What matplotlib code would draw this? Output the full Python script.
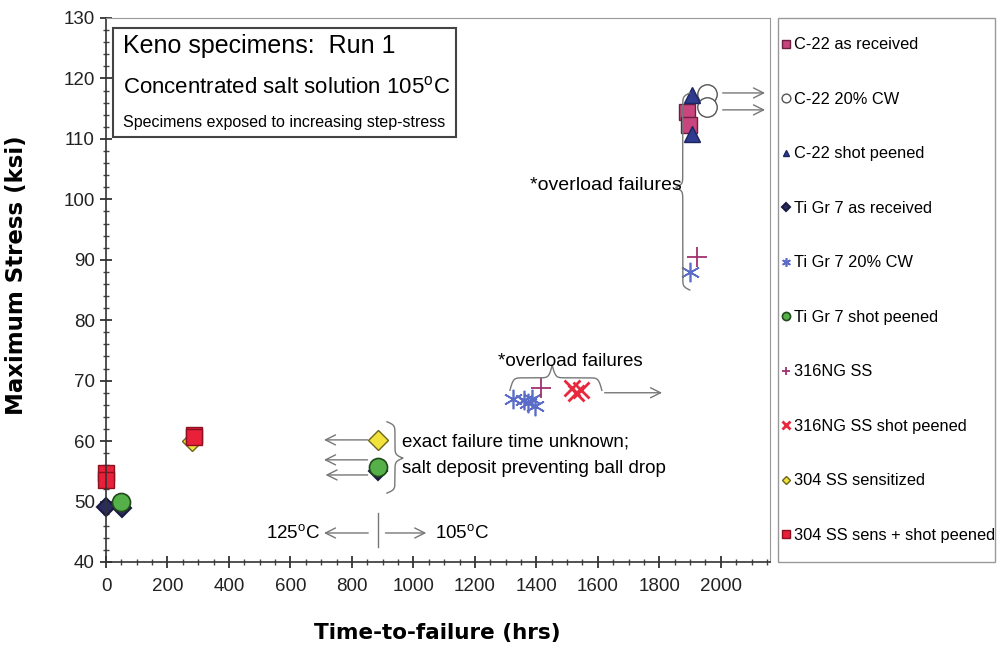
import numpy as np
import matplotlib
matplotlib.use("Agg")
import matplotlib.pyplot as plt
from matplotlib.patches import Rectangle
from matplotlib.ticker import MultipleLocator

plt.rcParams['font.family'] = ['Liberation Sans', 'DejaVu Sans']
plt.rcParams['mathtext.default'] = 'regular'

# data (hrs, ksi)
c22_ar_x = [1890, 1895]
c22_ar_y = [114.5, 112.3]
c22_cw_x = [1955, 1955]
c22_cw_y = [117.5, 115.2]
c22_sp_x = [1905, 1905]
c22_sp_y = [117.3, 110.8]
ti_ar_x = [0, 52, 885]
ti_ar_y = [49.1, 49.0, 55.0]
ti_cw_x = [1325, 1360, 1372, 1395, 1385, 1900]
ti_cw_y = [67.0, 66.8, 66.3, 65.8, 67.0, 88.0]
ti_sp_x = [49, 885]
ti_sp_y = [50.0, 55.7]
ss316_x = [1415, 1922]
ss316_y = [68.8, 90.4]
ss316_sp_x = [1515, 1530, 1545]
ss316_sp_y = [68.8, 68.0, 68.5]
ss304_x = [280, 885]
ss304_y = [60.0, 60.2]
ss304_sp_x = [0, 0, 285, 285]
ss304_sp_y = [54.8, 53.6, 61.0, 60.6]

labels = ["C-22 as received", "C-22 20% CW", "C-22 shot peened",
          "Ti Gr 7 as received", "Ti Gr 7 20% CW", "Ti Gr 7 shot peened",
          "316NG SS", "316NG SS shot peened", "304 SS sensitized",
          "304 SS sens + shot peened"]

fig = plt.figure(figsize=(9.97, 6.5), dpi=100)
ax = fig.add_axes([106/997, 1-562/650, 664/997, 544/650])
ax.set_xlim(0, 2160)
ax.set_ylim(40, 130)

star = (6, 2, 0)
kw = dict(ls='none', clip_on=False)
h = []
h += ax.plot(c22_ar_x, c22_ar_y, marker='s', ms=12, mfc='#c8457e', mec='#6a2040', mew=1, **kw)
h += ax.plot(c22_cw_x, c22_cw_y, marker='o', ms=14, mfc='white', mec='#555555', mew=1, **kw)
h += ax.plot(c22_sp_x, c22_sp_y, marker='^', ms=11, mfc='#2e3b8f', mec='#1c2560', mew=1, **kw)
h += ax.plot(ti_ar_x, ti_ar_y, marker='D', ms=9, mfc='#2a2c5e', mec='#1a1a40', mew=1.5, **kw)
h += ax.plot(ti_cw_x, ti_cw_y, marker=star, ms=14, mec='#5b6cc8', mfc='none', mew=1.2, **kw)
h += ax.plot(ti_sp_x, ti_sp_y, marker='o', ms=13, mfc='#55b04a', mec='#224a1c', mew=1.2, **kw)
h += ax.plot(ss316_x, ss316_y, marker='+', ms=14, mec='#a0306e', mew=1.3, **kw)
h += ax.plot(ss316_sp_x, ss316_sp_y, marker='x', ms=12, mec='#e8283c', mew=2, **kw)
h += ax.plot(ss304_x, ss304_y, marker='D', ms=10, mfc='#f2e23c', mec='#6b6520', mew=1, **kw)
h += ax.plot(ss304_sp_x, ss304_sp_y, marker='s', ms=12, mfc='#e8203a', mec='#8b1020', mew=1, **kw)

# axes styling
ax.xaxis.set_major_locator(MultipleLocator(200))
ax.xaxis.set_minor_locator(MultipleLocator(50))
ax.yaxis.set_major_locator(MultipleLocator(10))
ax.yaxis.set_minor_locator(MultipleLocator(2))
ax.set_xticks(np.arange(0, 2001, 200))
ax.tick_params(which='major', direction='inout', length=9, width=1.2, labelsize=13.5, colors='#222222')
ax.tick_params(which='minor', direction='inout', length=5, width=1, colors='#444444')
ax.tick_params(axis='x', pad=7)
for s in ['left', 'bottom']:
    ax.spines[s].set_color('#333333')
    ax.spines[s].set_linewidth(1.2)
for s in ['top', 'right']:
    ax.spines[s].set_color('#999999')
ax.set_xlabel("Time-to-failure (hrs)", fontsize=15.5, fontweight='bold', family='DejaVu Sans')
ax.set_ylabel("Maximum Stress (ksi)", fontsize=16.5, fontweight='bold', family='DejaVu Sans')
ax.xaxis.set_label_coords(0.4985, -0.113)
ax.yaxis.set_label_coords(-0.1175, 0.527)

# title box
ax.add_patch(Rectangle((23, 110.3), 1115, 18, fill=True, fc='white', ec='#444444', lw=1.5, zorder=1))
ax.text(55, 125.3, "Keno specimens:  Run 1", fontsize=18, va='center')
ax.text(55, 118.6, "Concentrated salt solution 105$^o$C", fontsize=16, va='center')
ax.text(55, 112.7, "Specimens exposed to increasing step-stress", fontsize=11.5, va='center')


def brace(p0, p1, depth, tip=0.5, side=1, beta=0.6):
    tr = ax.transData
    d0 = tr.transform(p0)
    d1 = tr.transform(p1)
    L = np.hypot(*(d1 - d0))
    u = (d1 - d0) / L
    n = np.array([-u[1], u[0]]) * side
    st = tip * L
    s1 = np.linspace(0, st, 100)
    s2 = np.linspace(st, L, 100)
    y1 = 1/(1+np.exp(-beta*(s1-0))) + 1/(1+np.exp(-beta*(s1-st)))
    y2 = 1/(1+np.exp(beta*(s2-st))) + 1/(1+np.exp(beta*(s2-L)))
    s = np.concatenate([s1, s2])
    y = (np.concatenate([y1, y2]) - 0.5) * depth
    pts = d0 + np.outer(s, u) + np.outer(y, n)
    dat = tr.inverted().transform(pts)
    ax.plot(dat[:, 0], dat[:, 1], color='#777777', lw=1, clip_on=False)


arr = dict(arrowstyle='->', color='#777777', lw=1, mutation_scale=18)

# overload failures (upper)
ax.text(1873, 102.3, "*overload failures", fontsize=14, ha='right', va='center')
brace((1899, 117.6), (1899, 85.0), 14, tip=0.48, side=-1)
ax.annotate("", xy=(2153, 117.6), xytext=(1997, 117.6), arrowprops=arr, annotation_clip=False)
ax.annotate("", xy=(2153, 114.8), xytext=(1997, 114.8), arrowprops=arr, annotation_clip=False)

# overload failures (lower)
ax.text(1510, 71.8, "*overload failures", fontsize=13.5, ha='center', va='bottom')
brace((1314, 68.4), (1613, 68.4), 25, tip=0.46, side=1)
ax.annotate("", xy=(1818, 68.0), xytext=(1613, 68.0), arrowprops=arr)

# unknown failure time
ax.annotate("", xy=(700, 60.2), xytext=(860, 60.2), arrowprops=arr)
ax.annotate("", xy=(700, 56.9), xytext=(860, 56.9), arrowprops=arr)
ax.annotate("", xy=(705, 54.4), xytext=(860, 54.4), arrowprops=arr)
brace((914, 63.2), (914, 51.4), 16, tip=0.51, side=1)
ax.text(963, 59.8, "exact failure time unknown;", fontsize=13.5, va='center')
ax.text(963, 55.5, "salt deposit preventing ball drop", fontsize=13.5, va='center')

# temperature change
ax.plot([884, 884], [42.5, 48.1], color='#777777', lw=1)
ax.annotate("", xy=(700, 44.8), xytext=(862, 44.8), arrowprops=arr)
ax.annotate("", xy=(1051, 44.8), xytext=(900, 44.8), arrowprops=arr)
ax.text(696, 44.8, "125$^o$C", fontsize=13.5, ha='right', va='center')
ax.text(1070, 44.8, "105$^o$C", fontsize=13.5, ha='left', va='center')

# legend box
fig.patches.append(Rectangle((778/997, 1-562/650), 217/997, 544/650, transform=fig.transFigure,
                             fill=False, ec='#999999', lw=1))
fig.legend(h, labels, loc='upper left', bbox_to_anchor=(778/997, 1-34/650), frameon=False,
           fontsize=11.8, markerscale=0.45, handlelength=0.6, handletextpad=0.2,
           labelspacing=2.41, borderaxespad=0, borderpad=0.2)

fig.savefig("out.png", dpi=100)
